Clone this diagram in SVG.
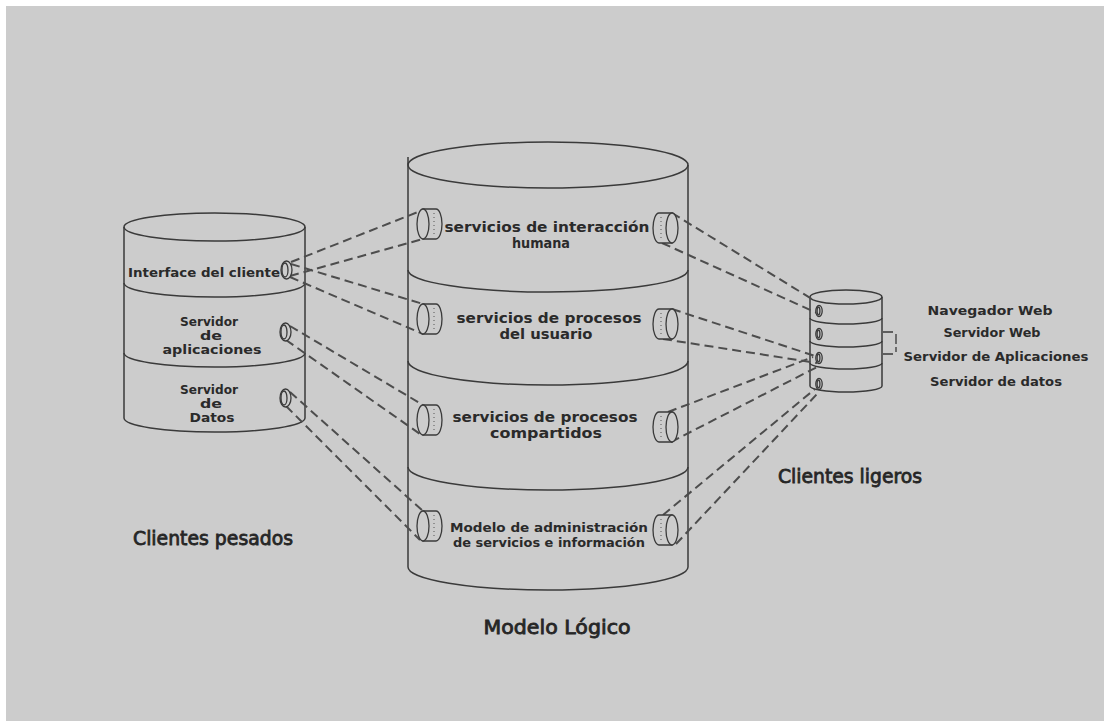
<svg xmlns="http://www.w3.org/2000/svg" width="1108" height="721" viewBox="0 0 1108 721">
<style>
.cyl{fill:none;stroke:#3a3a3a;stroke-width:1.5}
.con{fill:none;stroke:#4d4d4d;stroke-width:2;stroke-dasharray:9 5}
.ico{fill:#cccccc;stroke:#3a3a3a;stroke-width:1.3}
.dot{fill:none;stroke:#555;stroke-width:1;stroke-dasharray:1 3}
.t{font-family:"DejaVu Sans","Liberation Sans",sans-serif;font-weight:bold;fill:#2a2a2a;text-anchor:middle}
.b{font-family:"DejaVu Sans","Liberation Sans",sans-serif;font-weight:normal;fill:#262626;stroke:#262626;stroke-width:0.8;text-anchor:middle}
</style>
<defs>
<g id="drum">
<path class="ico" d="M-6,-15 H7 A6,15 0 0 1 7,15 H-6 Z"/>
<ellipse class="ico" cx="-6" cy="0" rx="6" ry="15"/>
<path class="dot" d="M5,-11 V11"/>
</g>
<g id="knob">
<ellipse class="ico" cx="0.5" cy="0" rx="5.5" ry="9"/>
<ellipse class="ico" cx="-1" cy="0" rx="3" ry="7"/>
</g>
<g id="mini">
<ellipse class="ico" cx="0" cy="0" rx="3.2" ry="5.5"/>
<ellipse class="ico" cx="-0.5" cy="0" rx="1.4" ry="3.8"/>
</g>
</defs>
<rect x="0" y="0" width="1108" height="721" fill="#ffffff"/>
<rect x="6" y="6" width="1098" height="715" fill="#cccccc"/>

<g id="clientes-pesados">
<ellipse class="cyl" cx="214.5" cy="227" rx="90.5" ry="14"/>
<path class="cyl" d="M124,227 V418 A90.5,14 0 0 0 305,418 V227"/>
<path class="cyl" d="M124,283 A90.5,14 0 0 0 305,283 M124,353 A90.5,14 0 0 0 305,353"/>
<text class="t" x="204" y="277" font-size="13" textLength="152" lengthAdjust="spacingAndGlyphs">Interface del cliente</text>
<text class="t" x="209" y="326" font-size="11.5" textLength="58" lengthAdjust="spacingAndGlyphs">Servidor</text>
<text class="t" x="211" y="340" font-size="11.5" textLength="22" lengthAdjust="spacingAndGlyphs">de</text>
<text class="t" x="212" y="354" font-size="11.5" textLength="99" lengthAdjust="spacingAndGlyphs">aplicaciones</text>
<text class="t" x="209" y="394" font-size="11.5" textLength="58" lengthAdjust="spacingAndGlyphs">Servidor</text>
<text class="t" x="211" y="408" font-size="11.5" textLength="22" lengthAdjust="spacingAndGlyphs">de</text>
<text class="t" x="212" y="422" font-size="11.5" textLength="45" lengthAdjust="spacingAndGlyphs">Datos</text>
<text class="b" x="213" y="545" font-size="19" textLength="160" lengthAdjust="spacingAndGlyphs">Clientes pesados</text>
</g>

<g id="modelo-logico">
<ellipse class="cyl" cx="548" cy="165" rx="140" ry="23"/>
<path class="cyl" d="M408,157 V567 A140,23 0 0 0 688,567 V165"/>
<path class="cyl" d="M408,270 A140,22 0 0 0 688,270 M408,361 A140,24 0 0 0 688,361 M408,467 A140,23 0 0 0 688,467"/>
<text class="t" x="547" y="232" font-size="13.5" textLength="205" lengthAdjust="spacingAndGlyphs">servicios de interacción</text>
<text class="t" x="541" y="248" font-size="13.5" textLength="58" lengthAdjust="spacingAndGlyphs">humana</text>
<text class="t" x="549" y="323" font-size="13.5" textLength="185" lengthAdjust="spacingAndGlyphs">servicios de procesos</text>
<text class="t" x="546" y="339" font-size="13.5" textLength="93" lengthAdjust="spacingAndGlyphs">del usuario</text>
<text class="t" x="545" y="422" font-size="13.5" textLength="185" lengthAdjust="spacingAndGlyphs">servicios de procesos</text>
<text class="t" x="546" y="438" font-size="13.5" textLength="112" lengthAdjust="spacingAndGlyphs">compartidos</text>
<text class="t" x="549" y="532" font-size="12.5" textLength="198" lengthAdjust="spacingAndGlyphs">Modelo de administración</text>
<text class="t" x="549" y="547" font-size="12.5" textLength="192" lengthAdjust="spacingAndGlyphs">de servicios e información</text>
<text class="b" x="557" y="634" font-size="19" textLength="147" lengthAdjust="spacingAndGlyphs">Modelo Lógico</text>
</g>

<g id="clientes-ligeros">
<ellipse class="cyl" cx="846" cy="297" rx="36" ry="7"/>
<path class="cyl" d="M810,297 V386 A36,6 0 0 0 882,386 V297"/>
<path class="cyl" d="M810,318 A36,6 0 0 0 882,318 M810,341 A36,6 0 0 0 882,341 M810,363 A36,6 0 0 0 882,363"/>
<path class="cyl" d="M883,332 H893 M896,334 V344 M896,347 V352 M883,354 H893" style="stroke-width:1.3"/>
<text class="t" x="990" y="315" font-size="13" textLength="125" lengthAdjust="spacingAndGlyphs">Navegador Web</text>
<text class="t" x="992" y="337" font-size="13" textLength="97" lengthAdjust="spacingAndGlyphs">Servidor Web</text>
<text class="t" x="996" y="361" font-size="13" textLength="185" lengthAdjust="spacingAndGlyphs">Servidor de Aplicaciones</text>
<text class="t" x="996" y="386" font-size="13" textLength="132" lengthAdjust="spacingAndGlyphs">Servidor de datos</text>
<text class="b" x="850" y="483" font-size="19" textLength="144" lengthAdjust="spacingAndGlyphs">Clientes ligeros</text>
</g>

<g id="connectors">
<path class="con" d="M291,262 L423,210"/>
<path class="con" d="M290,276 L423,239"/>
<path class="con" d="M291,264 L423,304"/>
<path class="con" d="M290,277 L423,334"/>
<path class="con" d="M290,326 L423,405"/>
<path class="con" d="M286,340 L420,434"/>
<path class="con" d="M290,392 L423,511"/>
<path class="con" d="M286,406 L420,540"/>
<path class="con" d="M672,213 L812,299"/>
<path class="con" d="M662,243 L817,313"/>
<path class="con" d="M672,309 L815,356"/>
<path class="con" d="M663,339 L817,363"/>
<path class="con" d="M668,412 L813,357"/>
<path class="con" d="M671,442 L819,366"/>
<path class="con" d="M663,515 L815,389"/>
<path class="con" d="M676,544 L818,393"/>
</g>

<g id="ports">
<use href="#knob" x="286" y="270"/>
<use href="#knob" x="285" y="332"/>
<use href="#knob" x="285" y="398"/>
<use href="#drum" transform="translate(429,224)"/>
<use href="#drum" transform="translate(429,319)"/>
<use href="#drum" transform="translate(429,420)"/>
<use href="#drum" transform="translate(429,526)"/>
<use href="#drum" transform="translate(666,228) scale(-1,1)"/>
<use href="#drum" transform="translate(666,324) scale(-1,1)"/>
<use href="#drum" transform="translate(666,427) scale(-1,1)"/>
<use href="#drum" transform="translate(666,530) scale(-1,1)"/>
<use href="#mini" x="819" y="311"/>
<use href="#mini" x="819" y="334"/>
<use href="#mini" x="819" y="358"/>
<use href="#mini" x="819" y="384"/>
</g>
</svg>
